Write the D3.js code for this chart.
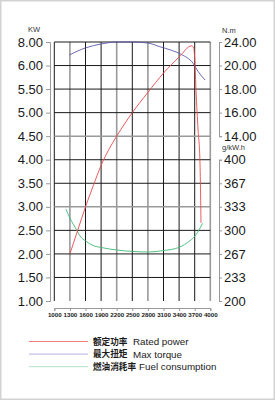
<!DOCTYPE html>
<html>
<head>
<meta charset="utf-8">
<script src="https://cdn.jsdelivr.net/npm/d3@7"></script>
<style>
  body { margin: 0; background: #fff; }
  svg { display: block; font-family: "Liberation Sans", Arial, sans-serif; }
</style>
</head>
<body>
<div id="chart"></div>
<script>
// ticks
var rpmTicks = [1000, 1300, 1600, 1900, 2200, 2500, 2800, 3100, 3400, 3700, 4000];
var kwTicks = [1.00, 1.50, 2.00, 2.50, 3.00, 3.50, 4.00, 4.50, 5.00, 5.50, 6.00, 8.00];
var nmTicks = [14.00, 16.00, 18.00, 20.00, 24.00];
var fuelTicks = [200, 233, 267, 300, 333, 367, 400];

// rated power (kW)
var powerRpm = [1300, 1450, 1600, 1750, 1900, 2050, 2200, 2500, 2800, 3100, 3400, 3640, 3680, 3705, 3725, 3765, 3800, 3815, 3821];
var powerKw  = [2.00, 2.50, 3.00, 3.45, 3.88, 4.22, 4.50, 5.00, 5.43, 5.84, 6.72, 7.68, 7.50, 6.20, 5.48, 4.63, 4.00, 3.14, 2.66];

// max torque (N.m)
var torqueRpm = [1290, 1600, 1900, 2200, 2500, 2800, 3030, 3250, 3440, 3670, 3770, 3900];
var torqueNm  = [21.8, 23.0, 23.66, 24.0, 24.0, 23.83, 23.2, 22.6, 21.9, 20.37, 19.47, 18.77];

// fuel consumption (g/kW.h)
var fuelRpm = [1225, 1300, 1430, 1495, 1600, 1745, 1905, 2205, 2510, 2800, 3110, 3400, 3610, 3705, 3800, 3850];
var fuelG   = [330, 317.5, 300.5, 292, 285, 278.6, 275.7, 272.2, 270.1, 269.4, 271.5, 276, 285.4, 292, 302.9, 310];

var legendCn = ["额定功率", "最大扭矩", "燃油消耗率"];
var legendEn = ["Rated power", "Max torque", "Fuel consumption"];
var colors = ["#e8484c", "#5b58a8", "#3fb877"];
var legendColors = ["#ec8080", "#b4b1e0", "#b3e2c9"];

var width = 275, height = 400;
var plotLeft = 54.3, plotRight = 210.3, plotTop = 42, plotBottom = 301;
var step = (plotBottom - plotTop) / 11;

var svg = d3.select("#chart").append("svg")
    .attr("width", width)
    .attr("height", height);

svg.append("rect")
    .attr("x", 0.75).attr("y", 0.75)
    .attr("width", width - 1.5).attr("height", height - 1.5)
    .attr("fill", "#fff")
    .attr("stroke", "#d2d2d2")
    .attr("stroke-width", 1.5);

var x = d3.scaleLinear().domain([1000, 4000]).range([plotLeft, plotRight]);

// left axis is broken at 6.00 -> 8.00
var yKw = d3.scaleLinear()
    .domain(kwTicks)
    .range(kwTicks.map(function(d, i) { return plotBottom - i * step; }));

// torque occupies the top 4 steps
var yNm = d3.scaleLinear()
    .domain(nmTicks)
    .range(nmTicks.map(function(d, i) { return plotTop + (4 - i) * step; }));

var yFuel = d3.scaleLinear().domain([200, 400]).range([plotBottom, plotBottom - 6 * step]);

// grid
var grayV = [1300, 2200, 2800, 4000];
var grayH = [4.50, 3.00];

svg.append("g").selectAll("line")
    .data(rpmTicks)
    .enter().append("line")
    .attr("x1", function(d) { return x(d); })
    .attr("x2", function(d) { return x(d); })
    .attr("y1", plotTop).attr("y2", plotBottom)
    .attr("stroke", function(d) { return grayV.indexOf(d) >= 0 ? "#9a9a9a" : "#1a1a1a"; })
    .attr("stroke-width", function(d) { return grayV.indexOf(d) >= 0 ? 1.6 : 1; });

svg.append("g").selectAll("line")
    .data(kwTicks.slice(1))
    .enter().append("line")
    .attr("x1", plotLeft).attr("x2", plotRight)
    .attr("y1", function(d) { return yKw(d); })
    .attr("y2", function(d) { return yKw(d); })
    .attr("stroke", function(d) { return grayH.indexOf(d) >= 0 ? "#9a9a9a" : "#1a1a1a"; })
    .attr("stroke-width", function(d) { return grayH.indexOf(d) >= 0 ? 1.6 : 1; });

function styleAxis(g, size, bold) {
    g.selectAll("path, line").attr("stroke", "#999");
    g.selectAll("text")
        .attr("font-size", size)
        .attr("font-weight", bold ? "bold" : "normal")
        .attr("fill", "#1a1a1a")
        .attr("font-family", "Liberation Sans, Arial, sans-serif");
}

// left axis
var leftAxis = svg.append("g")
    .attr("transform", "translate(50,0)")
    .call(d3.axisLeft(yKw).tickValues(kwTicks).tickFormat(d3.format(".2f")).tickSize(4).tickPadding(3));
styleAxis(leftAxis, 13, false);

// right axis, torque part
var nmAxis = svg.append("g")
    .attr("transform", "translate(219,0)")
    .call(d3.axisRight(yNm).tickValues(nmTicks).tickFormat(d3.format(".2f")).tickSize(3).tickPadding(2));
styleAxis(nmAxis, 13, false);

// right axis, fuel part
var fuelAxis = svg.append("g")
    .attr("transform", "translate(219,0)")
    .call(d3.axisRight(yFuel).tickValues(fuelTicks.map(function(d, i) { return 200 + i * 200 / 6; }))
        .tickFormat(function(d, i) { return fuelTicks[i]; }).tickSize(3).tickPadding(2));
styleAxis(fuelAxis, 13, false);

// x axis
var xAxis = svg.append("g")
    .attr("transform", "translate(0,308)")
    .call(d3.axisBottom(x).tickValues(rpmTicks).tickFormat(d3.format("d")).tickSize(3).tickPadding(2));
styleAxis(xAxis, 6.2, true);

// unit titles
svg.append("text").attr("x", 34).attr("y", 32).attr("text-anchor", "middle")
    .attr("font-size", 7.5).attr("fill", "#333").text("KW");
svg.append("text").attr("x", 222).attr("y", 33)
    .attr("font-size", 7.5).attr("fill", "#333").text("N.m");
svg.append("text").attr("x", 222).attr("y", 150)
    .attr("font-size", 7.5).attr("fill", "#333").text("g/kW.h");

// curves
function drawLine(xs, ys, yScale, color) {
    var pts = xs.map(function(d, i) { return [x(d), yScale(ys[i])]; });
    svg.append("path")
        .attr("d", d3.line().curve(d3.curveMonotoneX)(pts))
        .attr("fill", "none")
        .attr("stroke", color)
        .attr("stroke-width", 0.9);
}
drawLine(torqueRpm, torqueNm, yNm, colors[1]);
drawLine(fuelRpm, fuelG, yFuel, colors[2]);
drawLine(powerRpm, powerKw, yKw, colors[0]);

// legend
var legendItems = legendCn.map(function(d, i) {
    return { cn: d, en: legendEn[i], color: legendColors[i], i: i };
});

var legend = svg.append("g").selectAll("g")
    .data(legendItems)
    .enter().append("g")
    .attr("transform", function(d) { return "translate(0," + (341.5 + d.i * 12.6) + ")"; });

legend.append("line")
    .attr("x1", 29).attr("x2", 88)
    .attr("y1", 0).attr("y2", 0)
    .style("stroke", function(d) { return d.color; })
    .style("stroke-width", 1);

legend.append("text")
    .attr("x", 93).attr("y", 3.3)
    .attr("font-size", 8.6).attr("font-weight", "bold").attr("fill", "#1a1a1a")
    .attr("font-family", "Noto Sans CJK TC, Noto Sans CJK SC, sans-serif")
    .text(function(d) { return d.cn; });

legend.append("text")
    .attr("x", function(d) { return d.i == 2 ? 139 : 133; })
    .attr("y", 3.5)
    .attr("font-size", 9.8).attr("fill", "#1a1a1a")
    .text(function(d) { return d.en; });
</script>
</body>
</html>
